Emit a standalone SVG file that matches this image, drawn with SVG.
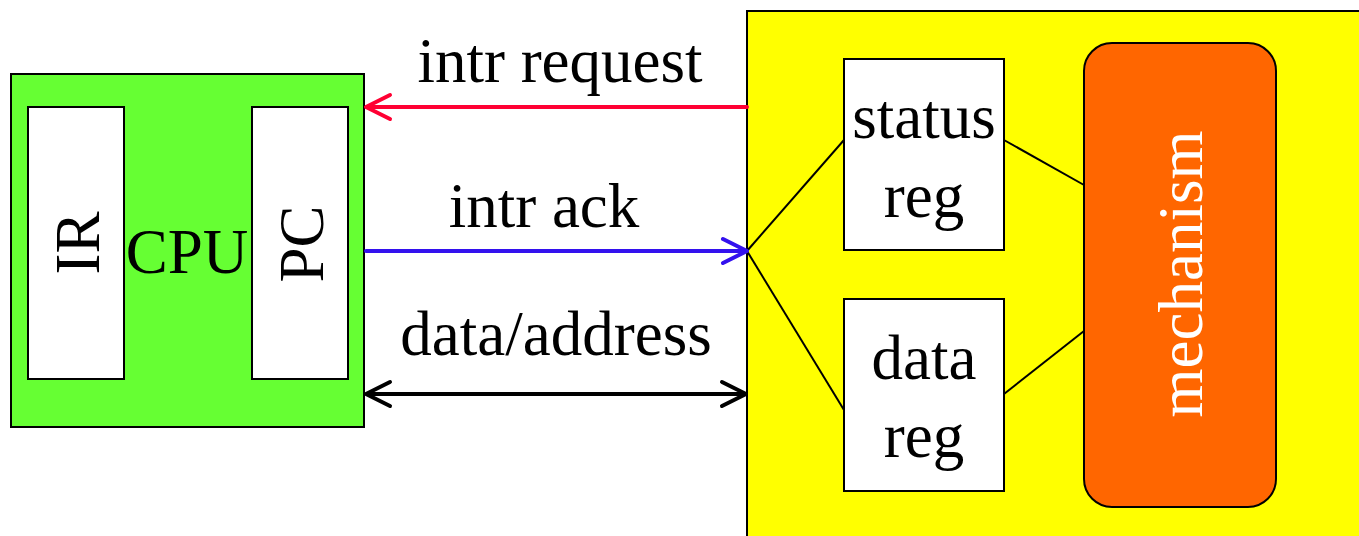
<svg xmlns="http://www.w3.org/2000/svg" width="1359" height="536" viewBox="0 0 1359 536">
<style>
text{font-family:"Liberation Serif","Times New Roman",serif;font-size:63px;fill:#000}
.box{stroke:#000;stroke-width:2}
.reg{fill:#fff;stroke:#000;stroke-width:2}
.link{fill:none;stroke:#000;stroke-width:2}
.arr{fill:none;stroke-width:4;stroke-linecap:round;stroke-linejoin:round}
</style>
<g id="cpu">
<rect class="box" x="11" y="74" width="353" height="353" fill="#66ff33"/>
<text x="187" y="273" text-anchor="middle">CPU</text>
</g>
<g id="ir">
<rect class="reg" x="28" y="107" width="96" height="272"/>
<text transform="translate(99,243) rotate(-90)" text-anchor="middle">IR</text>
</g>
<g id="pc">
<rect class="reg" x="252" y="107" width="96" height="272"/>
<text transform="translate(323,244) rotate(-90)" text-anchor="middle">PC</text>
</g>
<g id="device">
<rect class="box" x="747" y="11" width="640" height="560" fill="#ffff00"/>
</g>
<g id="status-reg">
<rect class="reg" x="844" y="59" width="160" height="191"/>
<text x="924" y="138" text-anchor="middle">status</text>
<text x="924" y="217" text-anchor="middle">reg</text>
</g>
<g id="data-reg">
<rect class="reg" x="844" y="299" width="160" height="192"/>
<text x="924" y="379" text-anchor="middle">data</text>
<text x="924" y="457" text-anchor="middle">reg</text>
</g>
<g id="mechanism">
<rect class="box" x="1084" y="43" width="192" height="464" rx="28" ry="28" fill="#ff6600"/>
<text transform="translate(1202,274) rotate(-90)" text-anchor="middle" style="fill:#fff">mechanism</text>
</g>
<g id="connectors">
<line class="link" x1="747" y1="251" x2="844" y2="140"/>
<line class="link" x1="747" y1="251" x2="844" y2="410"/>
<line class="link" x1="1004" y1="140" x2="1084" y2="185"/>
<line class="link" x1="1004" y1="394" x2="1084" y2="331"/>
<g class="arr" stroke="#ff0033">
<line x1="747" y1="107" x2="367" y2="107"/>
<polyline points="390,95 366,107 390,119"/>
</g>
<g class="arr" stroke="#3311ee">
<line x1="366" y1="251" x2="745" y2="251"/>
<polyline points="723,239 747,251 723,263"/>
</g>
<g class="arr" stroke="#000">
<line x1="368" y1="394" x2="744" y2="394"/>
<polyline points="390,382 366,394 390,406"/>
<polyline points="722,382 746,394 722,406"/>
</g>
</g>
<g id="labels">
<text x="560" y="82" text-anchor="middle">intr request</text>
<text x="544" y="227" text-anchor="middle">intr ack</text>
<text x="556" y="355" text-anchor="middle">data/address</text>
</g>
</svg>
